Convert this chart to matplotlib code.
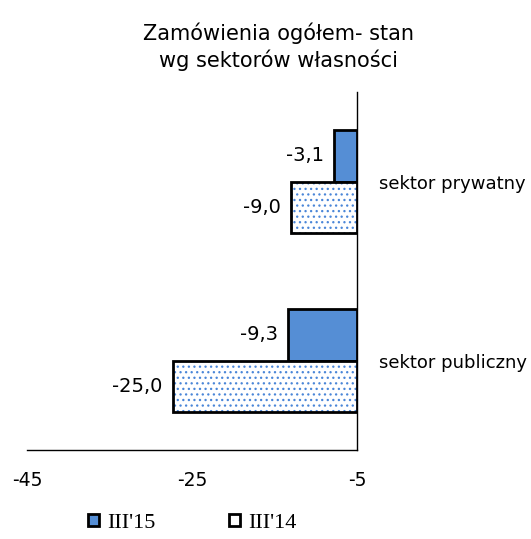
import numpy as np
import matplotlib
matplotlib.use("Agg")
import matplotlib.pyplot as plt
from matplotlib.patches import Patch

# data
categories = ["sektor publiczny", "sektor prywatny"]
values_15 = [-9.3, -3.1]
values_14 = [-25.0, -9.0]
series_names = ["III'15", "III'14"]
tick_labels = ["-45", "-25", "-5"]

blue = "#558ED5"
dot_blue = "#4A86D8"

plt.rcParams['font.family'] = ['DejaVu Sans']
plt.rcParams['hatch.linewidth'] = 0.9

fig = plt.figure(figsize=(5.31, 5.39), dpi=100)
ax = fig.add_axes([0.0508, 0.1651, 0.6215, 0.6642])

y = np.arange(len(categories))
h = 0.29

# III'15 solid bars
ax.barh(y + h / 2, values_15, height=h, color=blue, edgecolor="black", linewidth=2.0, zorder=3)
# III'14 dotted bars: hatch layer then black outline
ax.barh(y - h / 2, values_14, height=h, color="white", edgecolor=dot_blue, hatch="...",
        linewidth=0, zorder=3)
ax.barh(y - h / 2, values_14, height=h, fill=False, edgecolor="black", linewidth=2.0, zorder=4)

# value labels
for yy, v in zip(y + h / 2, values_15):
    ax.text(v - 1.4, yy, f"{v:.1f}".replace(".", ","), ha="right", va="center", fontsize=14)
for yy, v in zip(y - h / 2, values_14):
    ax.text(v - 1.4, yy, f"{v:.1f}".replace(".", ","), ha="right", va="center", fontsize=14)

ax.set_xlim(-44.8, 0)
ax.set_ylim(-0.5, 1.5)
ax.set_xticks([-44.8, -22.4, 0])
ax.set_xticklabels(tick_labels, fontsize=13.5)
ax.tick_params(axis="x", length=0, pad=15)

ax.yaxis.tick_right()
ax.set_yticks(y)
ax.set_yticklabels(categories, fontsize=13)
ax.tick_params(axis="y", length=0, pad=16)

for s in ["left", "top"]:
    ax.spines[s].set_visible(False)
ax.spines["right"].set_linewidth(1.0)
ax.spines["bottom"].set_linewidth(1.0)

fig.text(0.524, 0.938, "Zamówienia ogółem- stan", ha="center", va="center", fontsize=15)
fig.text(0.524, 0.889, "wg sektorów własności", ha="center", va="center", fontsize=15)

handles = [
    Patch(facecolor=blue, edgecolor="black", linewidth=2.0),
    Patch(facecolor="white", edgecolor="black", linewidth=2.0),
]
leg = fig.legend(handles, series_names, loc="center", bbox_to_anchor=(0.362, 0.029), ncol=2,
                 frameon=False, handlelength=0.5, handleheight=0.5, handletextpad=0.35,
                 columnspacing=3.3, prop={"family": "Liberation Serif", "size": 16})

fig.savefig("out.png", dpi=100)
